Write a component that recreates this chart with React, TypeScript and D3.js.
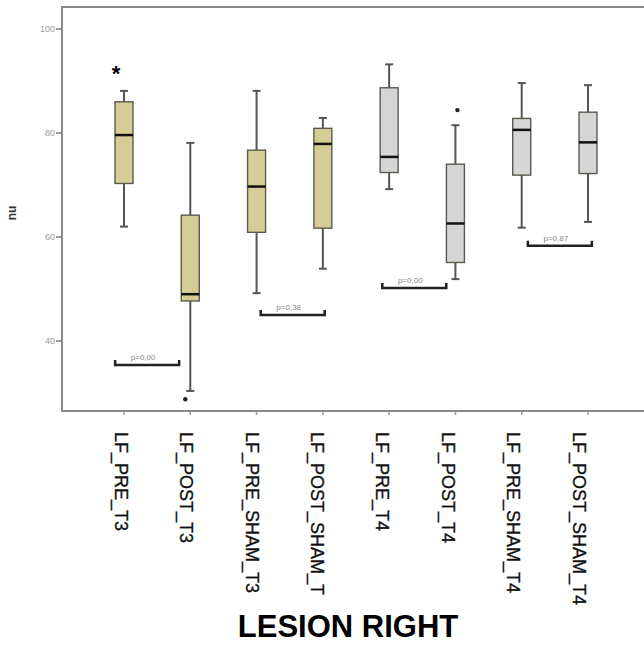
import React from "react";
import * as d3 from "d3";

const categories = [
  "LF_PRE_T3",
  "LF_POST_T3",
  "LF_PRE_SHAM_T3",
  "LF_POST_SHAM_T3",
  "LF_PRE_T4",
  "LF_POST_T4",
  "LF_PRE_SHAM_T4",
  "LF_POST_SHAM_T4",
];
const tickLabels = [
  "LF_PRE_T3",
  "LF_POST_T3",
  "LF_PRE_SHAM_T3",
  "LF_POST_SHAM_T",
  "LF_PRE_T4",
  "LF_POST_T4",
  "LF_PRE_SHAM_T4",
  "LF_POST_SHAM_T4",
];
const groups = ["T3", "T3", "T3", "T3", "T4", "T4", "T4", "T4"];
const whiskerLow = [62.0, 30.4, 49.2, 53.9, 69.2, 51.9, 61.8, 62.9];
const q1 = [70.3, 47.7, 60.9, 61.7, 72.4, 55.1, 71.9, 72.2];
const medians = [79.6, 49.0, 69.7, 77.9, 75.4, 62.6, 80.6, 78.2];
const q3 = [86.0, 64.2, 76.7, 80.9, 88.7, 74.0, 82.8, 84.0];
const whiskerHigh = [88.1, 78.1, 88.1, 82.9, 93.2, 81.5, 89.6, 89.2];

const outlierCats = [0, 1, 5];
const outlierValues = [92.1, 28.8, 84.4];
const outlierSymbols = ["star", "dot", "dot"];
const outlierShift = [-8, -5, 2];

const yTicks = [40, 60, 80, 100];

const bracketFrom = [0, 2, 4, 6];
const bracketTo = [1, 3, 5, 7];
const bracketValues = [35.4, 45.0, 50.2, 58.3];
const bracketLabels = ["p=0,00", "p=0,38", "p=0,00", "p=0,87"];
const bracketShift = [-10, 3, -8, 5];

const groupColors: Record<string, string> = { T3: "#d6cd96", T4: "#d5d5d5" };

export default function App() {
  const W = 644;
  const H = 646;
  const frameLeft = 62;
  const frameTop = 7;
  const frameBottom = 411;

  const y = d3.scaleLinear().domain([40, 100]).range([341, 29]);
  const x = d3.scalePoint<string>().domain(categories).range([124, 588]);
  const xLabel = d3.scalePoint<string>().domain(categories).range([121.5, 579]);
  const boxW = 18;
  const capW = 8;
  const font = "'Liberation Sans', Arial, Helvetica, sans-serif";

  return (
    <svg
      width={W}
      height={H}
      style={{ position: "absolute", left: 0, top: 0, background: "#fff" }}
      fontFamily={font}
    >
      <rect x={0} y={0} width={W} height={H} fill="#fff" />
      {/* frame */}
      <rect
        x={frameLeft}
        y={frameTop}
        width={W + 20 - frameLeft}
        height={frameBottom - frameTop}
        fill="none"
        stroke="#8a8a8a"
        strokeWidth={2}
      />
      {/* y ticks */}
      {yTicks.map((t) => (
        <g key={t}>
          <line x1={56} x2={frameLeft} y1={y(t)} y2={y(t)} stroke="#777" strokeWidth={1.5} />
          <text
            x={55}
            y={y(t)}
            dy="0.35em"
            textAnchor="end"
            fontSize={9}
            fill="#9a9a9a"
          >
            {t}
          </text>
        </g>
      ))}
      <text
        transform={`translate(16,213) rotate(-90)`}
        textAnchor="middle"
        fontSize={12}
        fontWeight="bold"
        fill="#333"
      >
        nu
      </text>
      {/* x ticks and labels */}
      {categories.map((c, i) => (
        <g key={c}>
          <line
            x1={x(c)!}
            x2={x(c)!}
            y1={frameBottom}
            y2={frameBottom + 4}
            stroke="#999"
            strokeWidth={1.5}
          />
          <text
            transform={`translate(${xLabel(c)},432) rotate(90)`}
            dy="0.36em"
            fontSize={18}
            fill="#111"
            stroke="#111"
            strokeWidth={0.35}
          >
            {tickLabels[i]}
          </text>
        </g>
      ))}
      {/* boxes */}
      {categories.map((c, i) => {
        const cx = x(c)!;
        return (
          <g key={c}>
            <line x1={cx} x2={cx} y1={y(whiskerHigh[i])} y2={y(q3[i])} stroke="#555" strokeWidth={2} />
            <line x1={cx} x2={cx} y1={y(q1[i])} y2={y(whiskerLow[i])} stroke="#555" strokeWidth={2} />
            <line
              x1={cx - capW / 2}
              x2={cx + capW / 2}
              y1={y(whiskerHigh[i])}
              y2={y(whiskerHigh[i])}
              stroke="#555"
              strokeWidth={2}
            />
            <line
              x1={cx - capW / 2}
              x2={cx + capW / 2}
              y1={y(whiskerLow[i])}
              y2={y(whiskerLow[i])}
              stroke="#555"
              strokeWidth={2}
            />
            <rect
              x={cx - boxW / 2}
              y={y(q3[i])}
              width={boxW}
              height={y(q1[i]) - y(q3[i])}
              fill={groupColors[groups[i]]}
              stroke="#5a5a50"
              strokeWidth={1.4}
            />
            <line
              x1={cx - boxW / 2}
              x2={cx + boxW / 2}
              y1={y(medians[i])}
              y2={y(medians[i])}
              stroke="#111"
              strokeWidth={2.5}
            />
          </g>
        );
      })}
      {/* outliers */}
      {outlierCats.map((ci, k) => {
        const cx = x(categories[ci])! + outlierShift[k];
        const cy = y(outlierValues[k]);
        return outlierSymbols[k] === "star" ? (
          <text
            key={k}
            x={cx}
            y={cy + 10.5}
            textAnchor="middle"
            fontSize={22}
            fontWeight="bold"
            fill="#000"
          >
            *
          </text>
        ) : (
          <circle key={k} cx={cx} cy={cy} r={2.2} fill="#222" />
        );
      })}
      {/* p-value brackets */}
      {bracketFrom.map((a, k) => {
        const mid = (x(categories[a])! + x(categories[bracketTo[k]])!) / 2 + bracketShift[k];
        const half = 32;
        const by = y(bracketValues[k]);
        return (
          <g key={k}>
            <path
              d={`M${mid - half},${by - 5} L${mid - half},${by} L${mid + half},${by} L${mid + half},${by - 5}`}
              fill="none"
              stroke="#222"
              strokeWidth={2.5}
            />
            <text x={mid - 4} y={by - 5} textAnchor="middle" fontSize={8} fill="#888">
              {bracketLabels[k]}
            </text>
          </g>
        );
      })}
      {/* title */}
      <text
        x={348}
        y={637}
        textAnchor="middle"
        fontSize={31}
        fontWeight="bold"
        fill="#000"
      >
        LESION RIGHT
      </text>
    </svg>
  );
}
